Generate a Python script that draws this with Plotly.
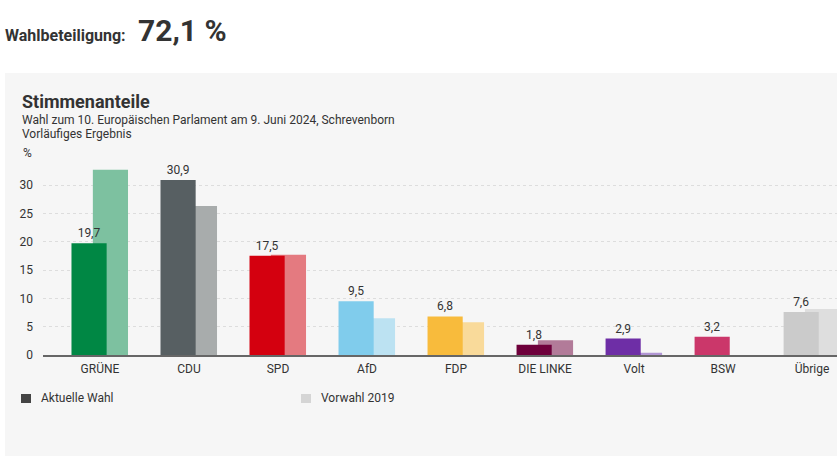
import plotly.graph_objects as go

parties = ["GRÜNE", "CDU", "SPD", "AfD", "FDP", "DIE LINKE", "Volt", "BSW", "Übrige"]
current = [19.7, 30.9, 17.5, 9.5, 6.8, 1.8, 2.9, 3.2, 7.6]
previous = [32.7, 26.3, 17.7, 6.5, 5.8, 2.6, 0.4, None, 8.1]
colors_now = ["#008744", "#575f62", "#d4000f", "#80ccec", "#f8bb3c", "#6e003b", "#6e2ea6", "#cb376a", "#cbcbcb"]
colors_prev = ["#7dc1a0", "#a8acac", "#e47a80", "#bce2f2", "#f9da9a", "#b27b99", "#b196d4", "#e59bb4", "#dedede"]
yticks = [0, 5, 10, 15, 20, 25, 30]

FONT = "Roboto"
TXT = "#333333"

# plot area in page pixels: left 43, right 837, top 162, bottom 355
PX_L, PX_W, PX_B, PX_H = 43, 794, 355, 193

labels = [f"{v:.1f}".replace(".", ",") for v in current]

fig = go.Figure()
fig.add_trace(go.Bar(
    x=parties, y=previous, marker_color=colors_prev, marker_line_width=0,
    width=0.395, offset=-0.08, hoverinfo="skip", name="Vorwahl 2019"))
fig.add_trace(go.Bar(
    x=parties, y=current, marker_color=colors_now, marker_line_width=0,
    width=0.395, offset=-0.32, text=labels, textposition="outside",
    textfont=dict(family=FONT, size=12, color=TXT), cliponaxis=False,
    name="Aktuelle Wahl"))


def px(x):
    return (x - PX_L) / PX_W


def py(y):
    return (PX_B - y) / PX_H


# grey panel behind the chart
fig.add_shape(type="rect", xref="paper", yref="paper", layer="below",
              x0=px(5), x1=1.05, y0=py(460), y1=py(73),
              fillcolor="#f6f6f6", line_width=0)

# legend swatches
fig.add_shape(type="rect", xref="paper", yref="paper",
              x0=px(21), x1=px(31), y0=py(403), y1=py(394),
              fillcolor="#444444", line_width=0)
fig.add_shape(type="rect", xref="paper", yref="paper",
              x0=px(301), x1=px(311), y0=py(403), y1=py(394),
              fillcolor="#d5d5d5", line_width=0)


def note(text, x, y, size, bold=False, color=TXT):
    fig.add_annotation(
        text=f"<b>{text}</b>" if bold else text, xref="paper", yref="paper",
        x=px(x), y=py(y), xanchor="left", yanchor="middle",
        showarrow=False, font=dict(family=FONT, size=size, color=color))


note("Wahlbeteiligung:", 3, 35, 16, bold=True)
note("72,1 %", 136, 30, 30, bold=True)
note("Stimmenanteile", 20, 101, 18, bold=True)
note("Wahl zum 10. Europäischen Parlament am 9. Juni 2024, Schrevenborn", 20, 120, 12)
note("Vorläufiges Ergebnis", 20, 134, 12)
note("%", 21, 153, 12)
note("Aktuelle Wahl", 39, 398, 12)
note("Vorwahl 2019", 319, 398, 12)

fig.update_layout(
    width=837, height=456,
    margin=dict(l=43, r=0, t=162, b=101),
    paper_bgcolor="white", plot_bgcolor="rgba(0,0,0,0)",
    barmode="overlay", showlegend=False,
    font=dict(family=FONT, size=12, color=TXT),
    xaxis=dict(range=[-0.64, 8.28], showgrid=False, showline=True,
               linecolor="#666666", linewidth=1.5, ticks="",
               tickfont=dict(family=FONT, size=12, color=TXT),
               ticklabelstandoff=2, fixedrange=True),
    yaxis=dict(range=[0, 34.06], tickvals=yticks, showgrid=True,
               gridcolor="#dddddd", griddash="dot", gridwidth=1,
               zeroline=False, showline=False, ticks="",
               tickfont=dict(family=FONT, size=12, color=TXT),
               ticklabelstandoff=9, fixedrange=True),
)

# the page body has a default 8px margin; remove it so the figure fills the window
fig.write_html("out.html", config={"displayModeBar": False},
               post_script="document.body.style.margin = '0';")
